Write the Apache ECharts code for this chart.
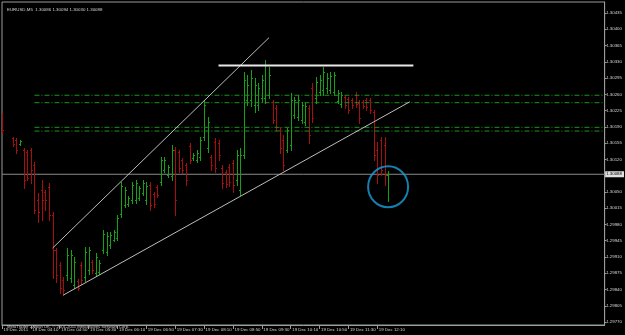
<!DOCTYPE html>
<html><head><meta charset="utf-8">
<script src="https://cdn.jsdelivr.net/npm/echarts@6/dist/echarts.min.js"></script>
<style>html,body{margin:0;padding:0;background:#000;}#c{width:625px;height:335px;}</style>
</head><body><div id="c"></div>
<script>
const symbolName = 'EURUSD,M5';
const copyright = 'MetaTrader - Alpari UK, \u00a9 2001-2011 MetaQuotes Software Corp.';
const barTimes = ['03:30','03:35','03:40','03:45','03:50','03:55',
'04:00','04:05','04:10','04:15','04:20','04:25','04:30','04:35','04:40','04:45','04:50','04:55',
'05:00','05:05','05:10','05:15','05:20','05:25','05:30','05:35','05:40','05:45','05:50','05:55',
'06:00','06:05','06:10','06:15','06:20','06:25','06:30','06:35','06:40','06:45','06:50','06:55',
'07:00','07:05','07:10','07:15','07:20','07:25','07:30','07:35','07:40','07:45','07:50','07:55',
'08:00','08:05','08:10','08:15','08:20','08:25','08:30','08:35','08:40','08:45','08:50','08:55',
'09:00','09:05','09:10','09:15','09:20','09:25','09:30','09:35','09:40','09:45','09:50','09:55',
'10:00','10:05','10:10','10:15','10:20','10:25','10:30','10:35','10:40','10:45','10:50','10:55',
'11:00','11:05','11:10','11:15','11:20','11:25','11:30','11:35','11:40','11:45','11:50','11:55',
'12:00','12:05','12:10','12:15','12:20','12:25'];
const openP = [1.30216,null,null,1.30166,1.30162,1.30153,
1.30140,1.30136,1.30140,1.30108,1.30033,1.30054,1.30050,1.30061,1.30000,1.29925,1.29893,1.29860,
1.29871,1.29865,1.29850,1.29858,1.29893,1.29867,1.29882,1.29899,1.29875,1.29878,1.29925,1.29921,
1.29936,1.29947,1.29951,1.30002,1.30022,1.30024,1.30033,1.30033,1.30037,1.30048,1.30033,1.30065,
1.30046,1.30061,1.30071,1.30097,1.30086,1.30084,1.30140,1.30136,1.30119,1.30108,1.30149,1.30123,
1.30119,1.30125,1.30168,1.30144,1.30125,1.30157,1.30155,1.30101,1.30093,1.30104,1.30112,1.30076,
1.30054,1.30129,1.30248,1.30248,1.30237,1.30237,1.30252,1.30252,1.30259,1.30243,1.30231,1.30183,
1.30162,1.30140,1.30151,1.30216,1.30211,1.30205,1.30200,1.30231,1.30274,1.30252,1.30265,1.30269,
1.30274,1.30269,1.30265,1.30246,1.30239,1.30254,1.30250,1.30248,1.30259,1.30241,1.30243,1.30248,
1.30248,1.30222,1.30140,1.30162,1.30151,1.30086];
const highP = [1.30220,null,null,1.30168,1.30166,1.30162,
1.30144,1.30140,1.30144,1.30114,1.30048,1.30076,1.30054,1.30069,1.30007,1.29929,1.29899,1.29867,
1.29929,1.29925,1.29910,1.29863,1.29899,1.29931,1.29931,1.29903,1.29918,1.29903,1.29968,1.29964,
1.29964,1.29968,1.30000,1.30071,1.30061,1.30041,1.30071,1.30076,1.30063,1.30076,1.30071,1.30071,
1.30050,1.30065,1.30125,1.30125,1.30108,1.30151,1.30147,1.30140,1.30123,1.30112,1.30155,1.30134,
1.30140,1.30168,1.30248,1.30211,1.30129,1.30166,1.30162,1.30108,1.30097,1.30110,1.30119,1.30140,
1.30144,1.30308,1.30302,1.30312,1.30295,1.30284,1.30302,1.30334,1.30319,1.30248,1.30237,1.30190,
1.30172,1.30188,1.30263,1.30254,1.30259,1.30243,1.30241,1.30237,1.30284,1.30297,1.30302,1.30319,
1.30306,1.30308,1.30308,1.30269,1.30265,1.30259,1.30254,1.30252,1.30265,1.30248,1.30248,1.30252,
1.30252,1.30226,1.30157,1.30168,1.30168,1.30094];
const lowP = [1.30177,null,null,1.30149,1.30134,1.30151,
1.30058,1.30076,1.30069,1.30005,1.29985,1.29990,1.30011,1.29990,1.29865,1.29856,1.29832,1.29828,
1.29860,1.29856,1.29843,1.29839,1.29852,1.29858,1.29873,1.29875,1.29869,1.29873,1.29918,1.29914,
1.29929,1.29944,1.29947,1.29996,1.30018,1.30020,1.30026,1.30026,1.30033,1.30043,1.30024,1.30011,
1.30018,1.30039,1.30065,1.30093,1.30082,1.30076,1.30000,1.30093,1.30091,1.30065,1.30112,1.30119,
1.30114,1.30119,1.30162,1.30136,1.30097,1.30093,1.30119,1.30058,1.30061,1.30063,1.30050,1.30065,
1.30043,1.30123,1.30237,1.30235,1.30222,1.30226,1.30243,1.30241,1.30252,1.30198,1.30183,1.30134,
1.30097,1.30136,1.30140,1.30209,1.30205,1.30198,1.30194,1.30155,1.30200,1.30241,1.30259,1.30259,
1.30263,1.30263,1.30259,1.30241,1.30233,1.30231,1.30220,1.30231,1.30233,1.30198,1.30231,1.30226,
1.30220,1.30119,1.30069,1.30086,1.30065,1.30030];
const closeP = [1.30183,null,null,1.30153,1.30140,1.30160,
1.30076,1.30080,1.30097,1.30011,1.30007,1.30033,1.30033,1.30000,1.29925,1.29871,1.29843,1.29839,
1.29914,1.29914,1.29899,1.29843,1.29860,1.29921,1.29925,1.29882,1.29910,1.29897,1.29959,1.29955,
1.29957,1.29964,1.29994,1.30063,1.30054,1.30037,1.30065,1.30069,1.30058,1.30069,1.30063,1.30022,
1.30024,1.30043,1.30119,1.30119,1.30104,1.30140,1.30033,1.30101,1.30097,1.30076,1.30119,1.30129,
1.30134,1.30162,1.30237,1.30200,1.30108,1.30101,1.30129,1.30069,1.30067,1.30071,1.30065,1.30129,
1.30129,1.30291,1.30280,1.30295,1.30280,1.30274,1.30291,1.30323,1.30302,1.30205,1.30190,1.30144,
1.30108,1.30183,1.30248,1.30248,1.30248,1.30237,1.30235,1.30172,1.30209,1.30287,1.30291,1.30308,
1.30295,1.30299,1.30302,1.30263,1.30259,1.30237,1.30226,1.30237,1.30239,1.30209,1.30235,1.30233,
1.30226,1.30129,1.30086,1.30097,1.30086,1.30088];
const yTicks = [1.30435,1.30400,1.30365,1.30330,1.30295,1.30260,1.30225,1.30190,1.30155,1.30120,
1.30050,1.30015,1.29980,1.29945,1.29910,1.29875,1.29840,1.29805,1.29770];
const xLabelTimes = ['03:30','04:10','04:50','05:30','06:10','06:50','07:30','08:10','08:50','09:30','10:10','10:50','11:30','12:10'];
const firstLabel = '19 Dec 2011';
const dayPrefix = '19 Dec ';
const upperChannel = [['04:40',1.29929],['09:40',1.30382]];
const lowerChannel = [['04:55',1.29828],['12:55',1.30244]];
const resistance = [['08:30',1.30322],['13:00',1.30322]];
const levels = [1.30258,1.30242,1.30189,1.30181];
const levelStart = '04:15';
const circleMark = ['12:25',1.30061];

// future (empty) slots to the right of the last bar, as in MT4 chart shift
const futureSlots = 60;
const cats = barTimes.slice();
{
  let [hh, mm] = barTimes[barTimes.length-1].split(':').map(Number);
  for (let k = 0; k < futureSlots; k++) {
    mm += 5; if (mm >= 60) { mm -= 60; hh += 1; }
    cats.push(String(hh).padStart(2,'0') + ':' + String(mm).padStart(2,'0'));
  }
}
const idx = t => cats.indexOf(t);
const GREEN = '#16a016', RED = '#a80e0e', GREY = '#9c9c9c', TXT = '#d4d4d4';
const FONT = 'Liberation Sans';
const FS = 4.4;

const ohlc = [];
barTimes.forEach((t, i) => {
  if (openP[i] == null) return;
  ohlc.push([i, openP[i], highP[i], lowP[i], closeP[i]]);
});
const last = barTimes.length - 1;
const lastClose = closeP[last];
const titleText = symbolName + '  ' + [openP[last], highP[last], lowP[last], closeP[last]].map(v => v.toFixed(5)).join(' ');
const labelSet = new Set(xLabelTimes);

function renderBar(params, api) {
  const i = api.value(0), o = api.value(1), h = api.value(2), l = api.value(3), c = api.value(4);
  const ph = api.coord([i, h]), pl = api.coord([i, l]), po = api.coord([i, o]), pc = api.coord([i, c]);
  const x = Math.round(ph[0]) + 0.5;
  const col = c >= o ? GREEN : RED;
  const yo = Math.round(po[1]) + 0.5, yc = Math.round(pc[1]) + 0.5;
  return { type: 'group', children: [
    { type: 'line', shape: { x1: x, y1: Math.round(ph[1]), x2: x, y2: Math.round(pl[1]) + 1 }, style: { stroke: col, lineWidth: 1 } },
    { type: 'line', shape: { x1: x - 1.5, y1: yo, x2: x, y2: yo }, style: { stroke: col, lineWidth: 1 } },
    { type: 'line', shape: { x1: x, y1: yc, x2: x + 1.5, y2: yc }, style: { stroke: col, lineWidth: 1 } }
  ]};
}

const lineSeries = (pts, color, width, type) => ({
  type: 'line', data: pts.map(p => [idx(p[0]), p[1]]), symbol: 'none', silent: true,
  lineStyle: { color: color, width: width, type: type || 'solid' }, z: 4, animation: false
});

const series = [
  { type: 'custom', renderItem: renderBar, data: ohlc, encode: { x: 0, y: [1, 2, 3, 4] }, z: 3, clip: true, silent: true }
];
levels.forEach(v => series.push(lineSeries([[levelStart, v], [cats[cats.length-1], v]], '#1c941c', 1, [5, 2, 1, 2])));
series.push(lineSeries(upperChannel, '#bdbdbd', 1));
series.push(lineSeries(lowerChannel, '#bdbdbd', 1));
series.push(lineSeries(resistance, '#e8e8e8', 2));
// current bid line across the whole chart, labelled on the price scale
const bid = lineSeries([[cats[0], lastClose], [cats[cats.length-1], lastClose]], '#8a8a8a', 1);
bid.z = 2;
bid.endLabel = { show: true, distance: 0.5, formatter: () => lastClose.toFixed(5),
  color: '#000', backgroundColor: '#e0e0e0', fontSize: FS, fontFamily: FONT, padding: [1, 2, 1, 1] };
series.push(bid);
series.push({
  type: 'scatter', data: [[idx(circleMark[0]), circleMark[1]]], symbol: 'circle', symbolSize: [40, 41], silent: true,
  itemStyle: { color: 'rgba(0,0,0,0)', borderColor: '#1a9fdc', borderWidth: 2 }, z: 6
});

const chart = echarts.init(document.getElementById('c'), null, { renderer: 'canvas' });
chart.setOption({
  backgroundColor: '#000',
  animation: false,
  title: [
    { text: titleText, left: 2, top: 3, textStyle: { color: TXT, fontSize: FS, fontWeight: 'normal', fontFamily: FONT } },
    { text: copyright, left: 2, top: 319.5, textStyle: { color: '#c4c4c4', fontSize: FS - 0.2, fontWeight: 'normal', fontFamily: FONT } }
  ],
  grid: { left: 2, top: 2, width: 605, height: 323, show: true, borderColor: GREY, borderWidth: 1 },
  xAxis: {
    type: 'category', data: cats, boundaryGap: false,
    axisLine: { lineStyle: { color: GREY } },
    axisTick: { show: true, length: 4, interval: (i, v) => labelSet.has(v), lineStyle: { color: GREY } },
    axisLabel: { interval: (i, v) => labelSet.has(v), formatter: v => v === cats[0] ? firstLabel : dayPrefix + v,
      align: 'left', color: TXT, fontSize: FS, fontFamily: FONT, margin: 2.5, padding: [0, 0, 0, 1.5] },
    splitLine: { show: false }
  },
  yAxis: {
    type: 'value', position: 'right', min: 1.297636, max: 1.304587,
    axisLine: { show: true, lineStyle: { color: GREY } },
    axisTick: { show: true, length: 2, customValues: yTicks, lineStyle: { color: GREY } },
    axisLabel: { customValues: yTicks, formatter: v => v.toFixed(5), color: TXT, fontSize: FS, fontFamily: FONT, margin: 1.5 },
    splitLine: { show: false }
  },
  series: series
});
</script></body></html>
